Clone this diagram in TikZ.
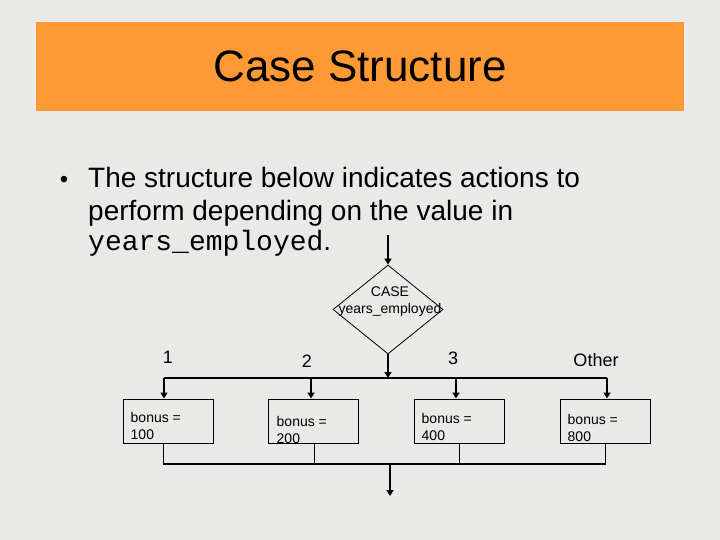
\documentclass[tikz,border=0pt]{standalone}
\usepackage{fontspec}
\setmainfont{Liberation Sans}
\setmonofont{Liberation Mono}
\usetikzlibrary{shapes.geometric}
\usetikzlibrary{arrows.meta}
\usetikzlibrary{calc}
\definecolor{slidebg}{RGB}{233,233,231}
\definecolor{titleorange}{RGB}{255,153,51}

\begin{document}
\begin{tikzpicture}[x=1pt,y=-1pt,
  flow/.style={line width=2pt, -{Triangle[length=6pt,width=7pt]}},
  wire/.style={line width=1.2pt},
  casebox/.style={draw, line width=1pt, minimum width=90pt, minimum height=44pt, inner sep=0pt},
  boxtext/.style={anchor=base west, align=left, inner sep=0pt, font=\fontsize{14}{17}\selectfont},
  caselabel/.style={anchor=base, inner sep=0pt, font=\fontsize{18}{21}\selectfont},
  introtext/.style={anchor=base west, inner sep=0pt, font=\fontsize{28}{31}\selectfont}]

%---------------------------------------
% Slide background and title
%---------------------------------------
\fill[slidebg] (0,0) rectangle (720,540);
\useasboundingbox (0,0) rectangle (720,540);

\fill[titleorange] (36,22) rectangle (684,111);
\node[anchor=base, inner sep=0pt, font=\fontsize{44}{53}\selectfont] (title) at (360,82) {Case Structure};

% Bullet text
\node[anchor=base, inner sep=0pt, font=\fontsize{24}{26}\selectfont] (bullet) at (64,188) {\textbullet};
\node[introtext] (intro1) at (88,188) {The structure below indicates actions to};
\node[introtext] (intro2) at (88,221) {perform depending on the value in};
\node[introtext] (intro3) at (88,250) {\texttt{years\_employed}.};

%---------------------------------------
% Case test
%---------------------------------------
\coordinate (entry) at (388,235);
\node[draw, diamond, line width=0.8pt, minimum width=110pt, minimum height=89pt, inner sep=0pt] (case) at (388,309.5) {};
\node[inner sep=0pt, align=center, font=\fontsize{14}{17}\selectfont] (casetext) at (390,302) {CASE\\years\_employed};

\draw[flow] (entry) -- (case.north);

% Branch line
\coordinate (split) at (388,378);
\coordinate (splitL) at (164,378);
\coordinate (splitR) at (607,378);
\draw[flow] (case.south) -- (split);
\draw[wire] (splitL) -- (splitR);

% Case values
\node[caselabel] (val1) at (168,363) {1};
\node[caselabel] (val2) at (307,367) {2};
\node[caselabel] (val3) at (453,364) {3};
\node[caselabel] (valO) at (596,366) {Other};

%---------------------------------------
% Actions
%---------------------------------------
\node[casebox] (b1) at (168,421) {};
\node[casebox] (b2) at (313,421) {};
\node[casebox] (b3) at (459,421) {};
\node[casebox] (b4) at (605,421) {};

% base of a two-line node is the last line
\foreach \b/\v/\dx/\dy in {b1/100/8/41, b2/200/9/45, b3/400/8/42, b4/800/8/43}{
  \begin{scope}
    \clip (\b.south west) rectangle (\b.north east);
    \node[boxtext] (\b text) at ($(\b.north west)+(\dx,\dy)$) {bonus =\\\v};
  \end{scope}
}

\foreach \b/\dx in {b1/-4, b2/-2, b3/-3, b4/2}
  \draw[flow] ($(\b.north)+(\dx,-21)$) -- ($(\b.north)+(\dx,0)$);

% Merge line
\coordinate (merge) at (390,464);
\coordinate (mergeL) at (163,464);
\coordinate (mergeR) at (605,464);
\coordinate (exit) at (390,496);
\foreach \b/\dx in {b1/-5, b2/1, b3/0, b4/0}
  \draw[line width=1pt] ($(\b.south)+(\dx,0)$) -- ($(\b.south)+(\dx,21)$);
\draw[wire] (mergeL) -- (mergeR);
\draw[flow] (merge) -- (exit);

\end{tikzpicture}
\end{document}
